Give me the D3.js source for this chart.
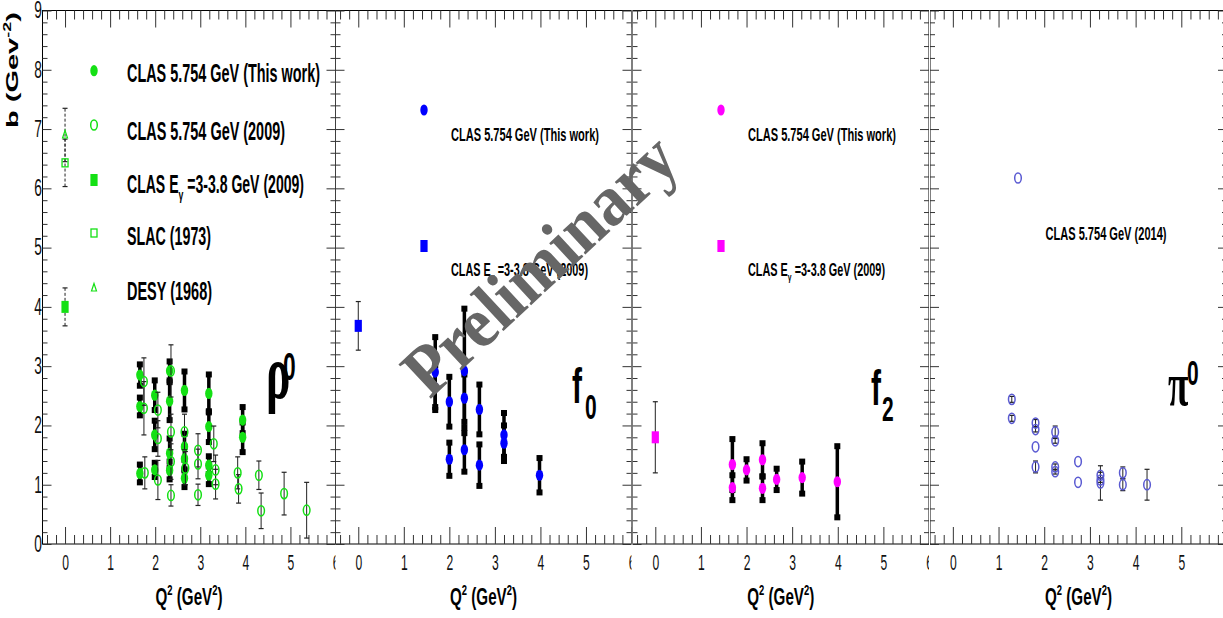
<!DOCTYPE html>
<html><head><meta charset="utf-8">
<script src="https://cdn.jsdelivr.net/npm/d3@7"></script>
<style>html,body{margin:0;padding:0;background:#fff;overflow:hidden}</style>
</head><body>
<svg id="chart" width="1223" height="618"></svg>
<script>
// ---------------- data ----------------
const xTicks = [0, 1, 2, 3, 4, 5, 6];
const yTicks = [0, 1, 2, 3, 4, 5, 6, 7, 8, 9];

// rho0 : CLAS 5.754 GeV (This work)
const rhoThisQ = [1.66,1.66,1.66,1.99,1.99,1.99,2.32,2.32,2.32,2.32,2.65,2.65,2.65,2.65,3.19,3.19,3.19,3.19,3.94,3.94];
const rhoThisB = [2.85,2.32,1.19,2.51,1.84,1.25,2.92,2.41,1.53,1.24,2.59,1.64,1.44,1.11,2.54,1.98,1.33,1.16,2.09,1.80];
const rhoThisE = [0.18,0.15,0.15,0.25,0.24,0.12,0.16,0.32,0.25,0.15,0.32,0.22,0.20,0.15,0.32,0.26,0.15,0.15,0.22,0.25];
// rho0 : CLAS 5.754 GeV (2009)
const rho09Q = [1.75,1.75,1.77,2.06,2.06,2.06,2.35,2.35,2.35,2.35,2.65,2.67,2.95,2.95,2.95,3.30,3.34,3.34,3.83,3.85,4.30,4.35,4.86,5.36];
const rho09B = [2.74,2.29,1.20,2.26,1.78,1.08,2.92,1.89,1.39,0.82,1.89,1.28,1.58,1.35,0.83,1.69,1.25,1.01,1.20,0.93,1.16,0.56,0.85,0.57];
const rho09E = [0.40,0.45,0.27,0.30,0.30,0.33,0.44,0.30,0.30,0.18,0.30,0.28,0.28,0.25,0.18,0.30,0.25,0.25,0.27,0.24,0.24,0.30,0.36,0.47];
// rho0 : CLAS E_gamma = 3-3.8 GeV (2009), SLAC (1973), DESY (1968)
const rhoLowQ = [0], rhoLowB = [4.00], rhoLowE = [0.32];
const slacQ = [0], slacB = [6.43], slacE = [0.40];
const desyQ = [0], desyB = [6.90], desyE = [0.45];

// f0
const f0ThisQ = [1.69,1.69,2.00,2.00,2.33,2.33,2.33,2.66,2.66,3.20,3.20,3.98];
const f0ThisB = [2.90,2.64,2.40,1.43,2.92,2.46,1.59,2.27,1.33,1.84,1.70,1.16];
const f0ThisE = [0.59,0.38,0.42,0.28,1.05,0.40,0.37,0.42,0.35,0.37,0.30,0.29];
const f0LowQ = [0], f0LowB = [3.68], f0LowE = [0.41];

// f2
const f2ThisQ = [1.69,1.69,2.00,2.35,2.35,2.66,3.22,3.99];
const f2ThisB = [1.34,0.95,1.25,1.42,0.94,1.09,1.12,1.05];
const f2ThisE = [0.43,0.21,0.18,0.28,0.20,0.18,0.27,0.60];
const f2LowQ = [0], f2LowB = [1.80], f2LowE = [0.60];

// pi0 : CLAS 5.754 GeV (2014)
const pi0Q = [1.29,1.29,1.81,1.81,1.81,1.81,2.24,2.24,2.24,2.24,2.74,2.74,3.23,3.23,3.23,3.72,3.72,4.25];
const pi0B = [2.44,2.12,2.04,1.93,1.64,1.30,1.89,1.74,1.30,1.22,1.39,1.04,1.16,1.08,1.03,1.20,1.00,1.00];
const pi0E = [0.05,0.05,0.06,0.04,0.00,0.10,0.10,0.04,0.05,0.04,0.00,0.00,0.05,0.04,0.29,0.10,0.10,0.26];

// ---------------- layout ----------------
const SANS = "'Liberation Sans', Arial, Helvetica, sans-serif";
const SERIF = "'Liberation Serif', 'Times New Roman', serif";
const yTop = 10.5, yBot = 544;
const panelPx = [[42.5, 335.5], [335.5, 631.5], [632.5, 929], [930, 1227]];
const GREEN = "#14e014", BLUE = "#0000ff", MAG = "#ff00ff", SLATE = "#5a5ad2";

const svg = d3.select("#chart");
const y = d3.scaleLinear().domain([0, 9]).range([yBot, yTop]);
const minorX = d3.range(-2, 31).filter(k => k % 5 !== 0).map(k => k / 5);
const minorY = d3.range(0, 46).filter(k => k % 5 !== 0).map(k => k / 5);

const defs = svg.append("defs");

function addText(g, x, yy, parts, o) {
  const F = o.size;
  let tr = `translate(${x},${yy})`;
  if (o.rot0) tr += ` rotate(${o.rot0})`;
  if (o.sx) tr += ` scale(${o.sx},1)`;
  if (o.rot) tr += ` rotate(${o.rot})`;
  const t = g.append("text").attr("transform", tr)
    .attr("font-family", o.family || SANS)
    .attr("font-weight", o.weight || "normal")
    .attr("font-size", F)
    .attr("fill", o.fill || "#000")
    .attr("text-anchor", o.anchor || "start");
  if (o.len) t.attr("textLength", o.len).attr("lengthAdjust", "spacingAndGlyphs");
  let shift = 0;
  parts.forEach(p => {
    const s = t.append("tspan");
    let target = 0;
    let fs = F;
    if (p.sup) { target = -F * 0.42; fs = F * 0.62; }
    if (p.sub) { target = F * 0.28; fs = F * 0.62; }
    s.attr("dy", target - shift).attr("font-size", fs).text(p.t);
    shift = target;
  });
  return t;
}

function errBars(g, x, Q, B, E, style) {
  const data = d3.range(Q.length).filter(i => E[i] > 0).map(i => [Q[i], B[i], E[i]]);
  const bars = g.append("g");
  const caps = data.flatMap(d => [[d[0], d[1] - d[2]], [d[0], d[1] + d[2]]]);
  if (style === "thick") {
    bars.selectAll("line").data(data).join("line")
      .attr("x1", d => x(d[0])).attr("x2", d => x(d[0]))
      .attr("y1", d => y(d[1] - d[2])).attr("y2", d => y(d[1] + d[2]))
      .attr("stroke", "#000").attr("stroke-width", 3.5);
    bars.selectAll("rect").data(caps).join("rect")
      .attr("x", d => x(d[0]) - 3).attr("y", d => y(d[1]) - 3)
      .attr("width", 6).attr("height", 6).attr("fill", "#000");
  } else {
    bars.selectAll("line.v").data(data).join("line").attr("class", "v")
      .attr("x1", d => x(d[0])).attr("x2", d => x(d[0]))
      .attr("y1", d => y(d[1] - d[2])).attr("y2", d => y(d[1] + d[2]))
      .attr("stroke", "#222").attr("stroke-width", 1)
      .attr("stroke-dasharray", style === "dashed" ? "3,2" : null);
    bars.selectAll("line.c").data(caps).join("line").attr("class", "c")
      .attr("x1", d => x(d[0]) - 2.5).attr("x2", d => x(d[0]) + 2.5)
      .attr("y1", d => y(d[1])).attr("y2", d => y(d[1]))
      .attr("stroke", "#222").attr("stroke-width", 1.2);
  }
}

function drawMarker(sel, type, color) {
  if (type === "fc") sel.append("ellipse").attr("rx", 3.7).attr("ry", 5.6).attr("fill", color);
  else if (type === "oc") sel.append("ellipse").attr("rx", 3.3).attr("ry", 5.1).attr("fill", "none").attr("stroke", color).attr("stroke-width", 1.5);
  else if (type === "fs") sel.append("rect").attr("x", -3.6).attr("y", -6).attr("width", 7.2).attr("height", 12).attr("fill", color);
  else if (type === "os") sel.append("rect").attr("x", -3).attr("y", -4).attr("width", 6).attr("height", 8).attr("fill", "none").attr("stroke", color).attr("stroke-width", 1.3);
  else if (type === "ot") sel.append("path").attr("d", "M0,-4.5L2.5,3L-2.5,3Z").attr("fill", "none").attr("stroke", color).attr("stroke-width", 1.2);
}

function markers(g, x, Q, B, type, color) {
  const data = d3.range(Q.length).map(i => [Q[i], B[i]]);
  g.append("g").selectAll("g").data(data).join("g")
    .attr("transform", d => `translate(${x(d[0])},${y(d[1])})`)
    .each(function () { drawMarker(d3.select(this), type, color); });
}

function legendMarker(g, px, py, type, color) {
  drawMarker(g.append("g").attr("transform", `translate(${px},${py})`), type, color);
}

const xs = [];
panelPx.forEach((pp, i) => {
  const [L, R] = pp;
  const x = d3.scaleLinear().domain([-0.5, 6]).range([L, R]);
  xs.push(x);
  defs.append("clipPath").attr("id", "clip" + i).append("rect")
    .attr("x", i === 0 ? 0 : L).attr("y", 0).attr("width", (i === 0 ? R : R - L)).attr("height", 618);
  const g = svg.append("g").attr("clip-path", `url(#clip${i})`);

  g.append("rect").attr("x", L).attr("y", yTop).attr("width", R - L).attr("height", yBot - yTop)
    .attr("fill", "none").attr("stroke", "#000").attr("stroke-width", 1);

  const style = a => a.call(s => s.select(".domain").remove())
    .call(s => s.selectAll(".tick line").attr("stroke", "#333"));

  const bMaj = g.append("g").attr("transform", `translate(0,${yBot})`)
    .call(d3.axisBottom(x).tickValues(xTicks).tickSize(-17).tickSizeOuter(0).tickPadding(10).tickFormat(d3.format("d")));
  style(bMaj);
  bMaj.selectAll(".tick text").attr("font-family", SANS).attr("font-size", 22).attr("fill", "#111")
    .attr("transform", "scale(0.55,1)");
  style(g.append("g").attr("transform", `translate(0,${yBot})`)
    .call(d3.axisBottom(x).tickValues(minorX).tickSize(-9).tickSizeOuter(0).tickFormat(() => "")));
  style(g.append("g").attr("transform", `translate(0,${yTop})`)
    .call(d3.axisTop(x).tickValues(xTicks).tickSize(-17).tickSizeOuter(0).tickFormat(() => "")));
  style(g.append("g").attr("transform", `translate(0,${yTop})`)
    .call(d3.axisTop(x).tickValues(minorX).tickSize(-9).tickSizeOuter(0).tickFormat(() => "")));
  const lMaj = g.append("g").attr("transform", `translate(${L},0)`)
    .call(d3.axisLeft(y).tickValues(yTicks).tickSize(-9).tickSizeOuter(0).tickPadding(1)
      .tickFormat(i === 0 ? d3.format("d") : () => ""));
  style(lMaj);
  lMaj.selectAll(".tick text").attr("font-family", SANS).attr("font-size", 23).attr("fill", "#111")
    .attr("transform", "scale(0.6,1)");
  style(g.append("g").attr("transform", `translate(${L},0)`)
    .call(d3.axisLeft(y).tickValues(minorY).tickSize(-5).tickSizeOuter(0).tickFormat(() => "")));
  style(g.append("g").attr("transform", `translate(${R},0)`)
    .call(d3.axisRight(y).tickValues(yTicks).tickSize(-9).tickSizeOuter(0).tickFormat(() => "")));
  style(g.append("g").attr("transform", `translate(${R},0)`)
    .call(d3.axisRight(y).tickValues(minorY).tickSize(-5).tickSizeOuter(0).tickFormat(() => "")));

  addText(g, (L + R) / 2, 605, [{t: "Q"}, {t: "2", sup: true}, {t: " (GeV"}, {t: "2", sup: true}, {t: ")"}],
    {size: 23, weight: "bold", sx: 0.66, anchor: "middle"});
});

// ---------------- panel contents ----------------
const [x1, x2, x3, x4] = xs;
const gData = svg.append("g");

errBars(gData, x1, rhoThisQ, rhoThisB, rhoThisE, "thick");
markers(gData, x1, rhoThisQ, rhoThisB, "fc", GREEN);
errBars(gData, x1, rho09Q, rho09B, rho09E, "thin");
markers(gData, x1, rho09Q, rho09B, "oc", GREEN);
errBars(gData, x1, desyQ, desyB, desyE, "dashed");
errBars(gData, x1, slacQ, slacB, slacE, "dashed");
errBars(gData, x1, rhoLowQ, rhoLowB, rhoLowE, "dashed");
markers(gData, x1, desyQ, desyB, "ot", GREEN);
markers(gData, x1, slacQ, slacB, "os", GREEN);
markers(gData, x1, rhoLowQ, rhoLowB, "fs", GREEN);

errBars(gData, x2, f0ThisQ, f0ThisB, f0ThisE, "thick");
markers(gData, x2, f0ThisQ, f0ThisB, "fc", BLUE);
errBars(gData, x2, f0LowQ, f0LowB, f0LowE, "thin");
markers(gData, x2, f0LowQ, f0LowB, "fs", BLUE);

errBars(gData, x3, f2ThisQ, f2ThisB, f2ThisE, "thick");
markers(gData, x3, f2ThisQ, f2ThisB, "fc", MAG);
errBars(gData, x3, f2LowQ, f2LowB, f2LowE, "thin");
markers(gData, x3, f2LowQ, f2LowB, "fs", MAG);

errBars(gData, x4, pi0Q, pi0B, pi0E, "thin");
markers(gData, x4, pi0Q, pi0B, "oc", SLATE);

// ---------------- legends ----------------
const gLeg = svg.append("g");
const leg1 = [
  {type: "fc", y: 70.7, ty: 82, len: 193, parts: [{t: "CLAS 5.754 GeV (This work)"}]},
  {type: "oc", y: 125, ty: 140, len: 158, parts: [{t: "CLAS 5.754 GeV (2009)"}]},
  {type: "fs", y: 180, ty: 193, len: 177, parts: [{t: "CLAS E"}, {t: "γ", sub: true}, {t: " =3-3.8 GeV (2009)"}]},
  {type: "os", y: 233, ty: 245, len: 84, parts: [{t: "SLAC (1973)"}]},
  {type: "ot", y: 288, ty: 300, len: 85, parts: [{t: "DESY (1968)"}]}
];
leg1.forEach(d => {
  legendMarker(gLeg, 94, d.y, d.type, GREEN);
  addText(gLeg, 127, d.ty, d.parts, {size: 25, len: d.len, weight: "bold"});
});
[[1, BLUE], [2, MAG]].forEach(([i, c]) => {
  const L = panelPx[i][0];
  legendMarker(gLeg, L + 88.5, 110, "fc", c);
  addText(gLeg, L + 115.5, 141, [{t: "CLAS 5.754 GeV (This work)"}], {size: 18, len: 148, weight: "bold"});
  legendMarker(gLeg, L + 88.5, 246, "fs", c);
  addText(gLeg, L + 115.5, 276, [{t: "CLAS E"}, {t: "γ", sub: true}, {t: " =3-3.8 GeV (2009)"}], {size: 18, len: 137, weight: "bold"});
});
legendMarker(gLeg, panelPx[3][0] + 88, 178, "oc", SLATE);
addText(gLeg, panelPx[3][0] + 115.5, 240, [{t: "CLAS 5.754 GeV (2014)"}], {size: 18, len: 121, weight: "bold"});

// ---------------- labels ----------------
const gLab = svg.append("g");
addText(gLab, 18, 128, [{t: "b (Gev"}, {t: "-2", sup: true}, {t: ")"}], {size: 29, weight: "bold", sx: 0.6, rot: -90});
addText(gLab, 266, 398, [{t: "ρ"}], {size: 76, family: SERIF, weight: "bold", sx: 0.6});
addText(gLab, 283, 380, [{t: "0"}], {size: 38, weight: "bold", sx: 0.6});
addText(gLab, 572, 403, [{t: "f"}], {size: 50, weight: "bold", sx: 0.6});
addText(gLab, 585, 419, [{t: "0"}], {size: 35, weight: "bold", sx: 0.6});
addText(gLab, 871, 405, [{t: "f"}], {size: 50, weight: "bold", sx: 0.6});
addText(gLab, 882, 421, [{t: "2"}], {size: 35, weight: "bold", sx: 0.6});
addText(gLab, 1168, 405, [{t: "π"}], {size: 62, family: SERIF, weight: "bold", sx: 0.6});
addText(gLab, 1187, 385, [{t: "0"}], {size: 35, weight: "bold", sx: 0.6});

// watermark
addText(svg, 556, 282, [{t: "Preliminary"}], {size: 72, family: SERIF, weight: "bold", rot0: -43,
  anchor: "middle", fill: "#666", len: 345});
</script>
</body></html>
